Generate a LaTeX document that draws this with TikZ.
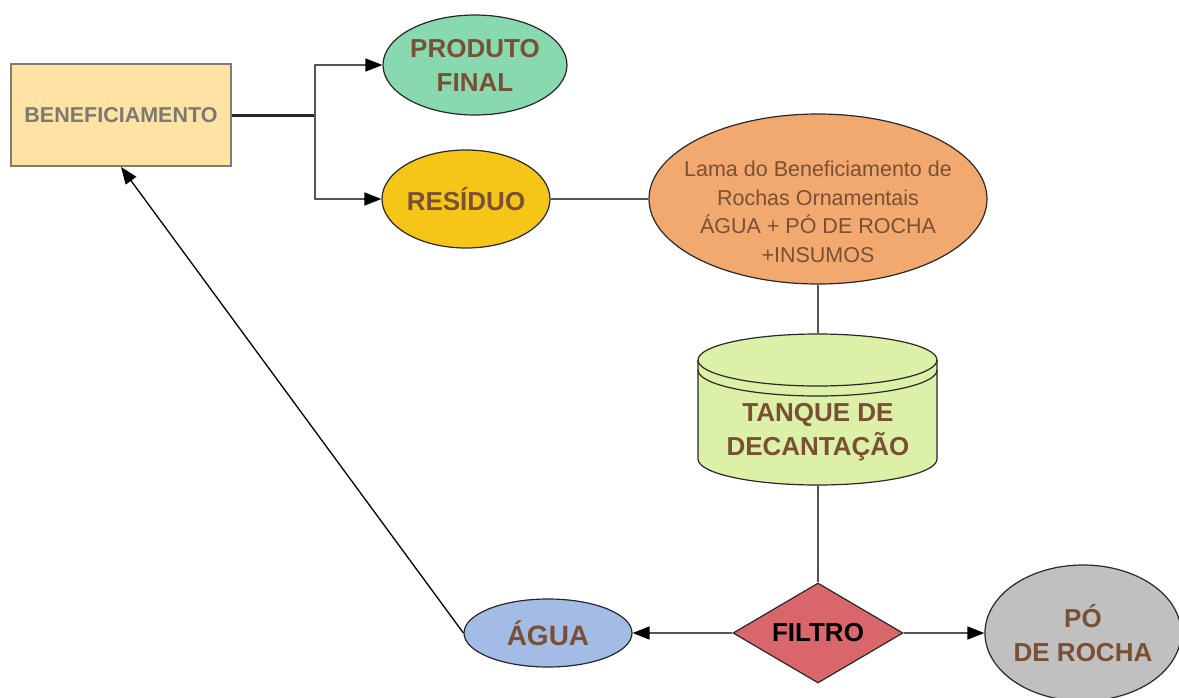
\documentclass[tikz,border=0pt]{standalone}
\usepackage{fontspec}
\setmainfont{Liberation Sans}
\usetikzlibrary{shapes.geometric,arrows.meta}
\definecolor{benfill}{RGB}{254,227,164}
\definecolor{benborder}{RGB}{128,125,110}
\definecolor{bentext}{RGB}{122,122,112}
\definecolor{prodfill}{RGB}{136,216,176}
\definecolor{resfill}{RGB}{245,198,24}
\definecolor{lamafill}{RGB}{242,169,112}
\definecolor{tankfill}{RGB}{221,240,168}
\definecolor{filtfill}{RGB}{217,102,106}
\definecolor{aguafill}{RGB}{163,188,230}
\definecolor{pofill}{RGB}{192,192,192}
\definecolor{brownt}{RGB}{122,80,52}
\definecolor{shapeborder}{RGB}{40,40,40}
\definecolor{linegray}{RGB}{85,85,85}
\begin{document}
\begin{tikzpicture}[x=1pt,y=-1pt,
  outl/.style={draw=shapeborder, line width=1.2pt},
  lbl/.style={font=\bfseries\fontsize{26}{34}\selectfont, text=brownt, align=center},
  oval/.style={ellipse, outl, inner sep=0pt},
  conn/.style={draw=linegray, line width=1.6pt},
  tip/.style={-{Triangle[length=17pt,width=13pt,color=black,fill=black]}},
  arr/.style={conn, tip}]
\useasboundingbox (0,0) rectangle (1179,697);
\fill[white] (0,0) rectangle (1179,697);
\clip (0,0) rectangle (1179,697);

% BENEFICIAMENTO
\node[rectangle, draw=benborder, line width=2pt, fill=benfill, minimum width=220pt, minimum height=102pt,
  font=\bfseries\fontsize{21.5}{24}\selectfont, text=bentext] (benef) at (121,115) {BENEFICIAMENTO};

% Produto final / residuo
\node[oval, fill=prodfill, minimum width=184pt, minimum height=100pt, lbl] (prod) at (475,65) {PRODUTO\\FINAL};
\node[oval, fill=resfill, minimum width=168pt, minimum height=98pt, lbl] (res) at (466,199) {RESÍDUO};

% Lama
\node[oval, fill=lamafill, minimum width=338pt, minimum height=170pt] (lama) at (818,199) {};
\node[font=\fontsize{21.5}{28.5}\selectfont, text=brownt, align=center] (lamatext) at (818,212)
  {Lama do Beneficiamento de\\Rochas Ornamentais\\ÁGUA + PÓ DE ROCHA\\+INSUMOS};

% Tanque (cylinder)
\fill[tankfill] (698,360) -- (698,459) arc[start angle=180, end angle=0, x radius=119.5, y radius=26]
  -- (937,360) arc[start angle=0, end angle=-180, x radius=119.5, y radius=26] -- cycle;
\draw[outl] (698,360) -- (698,459) arc[start angle=180, end angle=0, x radius=119.5, y radius=26]
  -- (937,360) arc[start angle=0, end angle=-180, x radius=119.5, y radius=26] -- cycle;
\draw[outl] (698,360) arc[start angle=180, end angle=0, x radius=119.5, y radius=26];
\draw[outl] (698,370) arc[start angle=180, end angle=0, x radius=119.5, y radius=26];
\node[rectangle, minimum width=239pt, minimum height=152pt, inner sep=0pt] (tank) at (818,409) {};
\node[lbl] (tanklabel) at (818,432) {TANQUE DE\\DECANTAÇÃO};

% Filtro
\node[diamond, outl, fill=filtfill, aspect=1.7, inner sep=0pt, minimum width=170pt, minimum height=100pt,
  font=\bfseries\fontsize{26}{34}\selectfont, text=black] (filtro) at (818,633) {FILTRO};

% Agua and Po de rocha
\node[oval, fill=aguafill, minimum width=168pt, minimum height=68pt, lbl, font=\bfseries\fontsize{28}{34}\selectfont] (agua) at (548,633) {ÁGUA};
\node[oval, fill=pofill, minimum width=196pt, minimum height=136pt, lbl] (po) at (1083,633) {PÓ\\DE ROCHA};

% Connectors
\coordinate (split) at (315,115);
\draw[draw=shapeborder, line width=3pt] (benef.east) -- (split);
\draw[arr] (split) |- (prod.west);
\draw[arr] (split) |- (res.west);
\draw[conn] (res.east) -- (lama.west);
\draw[conn] (lama.south) -- (tank.north);
\draw[conn] (tank.south) -- (filtro.north);
\draw[arr] (filtro.west) -- (agua.east);
\draw[arr] (filtro.east) -- (po.west);
\draw[draw=black, line width=1.3pt, tip] (agua.west) -- (benef.south);
\end{tikzpicture}
\end{document}
